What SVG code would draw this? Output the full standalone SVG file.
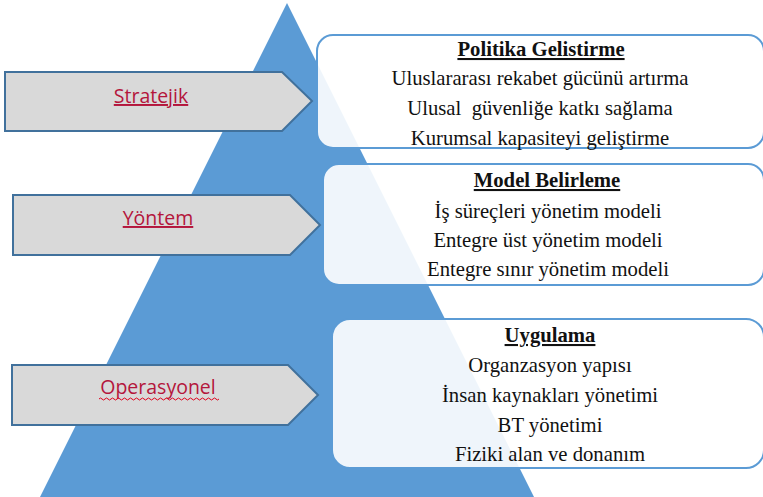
<svg xmlns="http://www.w3.org/2000/svg" width="763" height="497" viewBox="0 0 763 497">
<style>
.box{fill:#ffffff;fill-opacity:0.9;stroke:#5B9BD5;stroke-width:2}
.arrow{fill:#D9D9D9;stroke:#41719C;stroke-width:2}
.lbl{font-family:"Open Sans","Noto Sans",sans-serif;font-size:19.5px;fill:#B4163C;text-anchor:middle}
.ul{text-decoration:underline}
.t{font-family:"Liberation Serif","Times New Roman",serif;font-size:20.7px;fill:#111;text-anchor:middle}
.h{font-weight:bold;text-decoration:underline}
</style>
<rect width="763" height="497" fill="#ffffff"/>
<polygon id="pyramid" points="287,3 40,497 534,497" fill="#5B9BD5"/>
<g id="levels">
<g id="stratejik">
<polygon class="arrow" points="5,72 282,72 312,101 282,131 5,131"/>
<text class="lbl ul" x="151" y="103">Stratejik</text>
</g>
<g id="yontem">
<polygon class="arrow" points="13,195 290,195 320,225 290,255 13,255"/>
<text class="lbl ul" x="158" y="225">Yöntem</text>
</g>
<g id="operasyonel">
<polygon class="arrow" points="12,365 288,365 318,395 288,425 12,425"/>
<text class="lbl" x="158" y="394">Operasyonel</text>
<path d="M99,399 q1.5,-2 3,0 t3,0 t3,0 t3,0 t3,0 t3,0 t3,0 t3,0 t3,0 t3,0 t3,0 t3,0 t3,0 t3,0 t3,0 t3,0 t3,0 t3,0 t3,0 t3,0 t3,0 t3,0 t3,0 t3,0 t3,0 t3,0 t3,0 t3,0 t3,0 t3,0 t3,0 t3,0 t3,0 t3,0 t3,0 t3,0 t3,0 t3,0 t3,0 t3,0" fill="none" stroke="#E0001B" stroke-width="1"/>
</g>
</g>
<g id="politika">
<rect class="box" x="317" y="35" width="447" height="113" rx="16"/>
<text class="t h" x="541" y="56">Politika Gelistirme</text>
<text class="t" x="540" y="85">Uluslararası rekabet gücünü artırma</text>
<text class="t" x="540" y="115" style="white-space:pre">Ulusal  güvenliğe katkı sağlama</text>
<text class="t" x="540" y="145">Kurumsal kapasiteyi geliştirme</text>
</g>
<g id="model">
<rect class="box" x="323" y="164" width="441" height="121" rx="16"/>
<text class="t h" x="547" y="187">Model Belirleme</text>
<text class="t" x="548" y="218">İş süreçleri yönetim modeli</text>
<text class="t" x="548" y="247">Entegre üst yönetim modeli</text>
<text class="t" x="548" y="276">Entegre sınır yönetim modeli</text>
</g>
<g id="uygulama">
<rect class="box" x="332" y="319" width="432" height="149" rx="18"/>
<text class="t h" x="550" y="342">Uygulama</text>
<text class="t" x="550" y="372">Organzasyon yapısı</text>
<text class="t" x="550" y="402">İnsan kaynakları yönetimi</text>
<text class="t" x="550" y="432">BT yönetimi</text>
<text class="t" x="550" y="461">Fiziki alan ve donanım</text>
</g>
<g id="connectors"></g>
</svg>
